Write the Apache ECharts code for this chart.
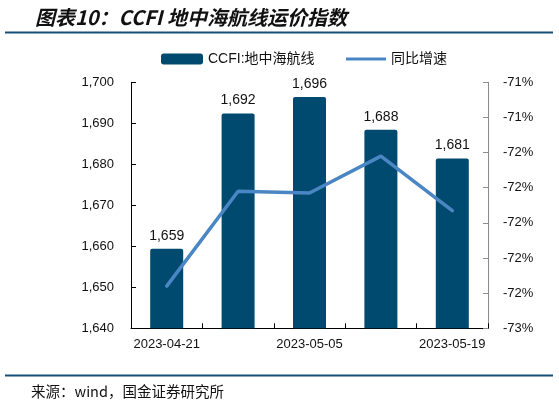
<!DOCTYPE html>
<html>
<head>
<meta charset="utf-8">
<script src="https://cdn.jsdelivr.net/npm/echarts@6/dist/echarts.min.js"></script>
<style>
html,body{margin:0;padding:0;background:#fff;}
#c{width:559px;height:406px;}
</style>
</head>
<body>
<div id="c"></div>
<script>
var categories = ['2023-04-21', '2023-04-28', '2023-05-05', '2023-05-12', '2023-05-19'];
var ccfiValues = [1659.4, 1692.4, 1696.4, 1688.4, 1681.4];
var yoyValues = [-72.36, -71.82, -71.83, -71.62, -71.93];
var leftTicks = { min: 1640, max: 1700, interval: 10 };
var rightTicks = { min: -72.6, max: -71.2, interval: 0.2 };
var titleText = '图表10：CCFI 地中海航线运价指数';
var sourceText = '来源：wind，国金证券研究所';
var seriesNames = ['CCFI:地中海航线', '同比增速'];

var FONT = '"Liberation Sans", Arial, "Noto Sans CJK SC", sans-serif';
var chart = echarts.init(document.getElementById('c'), null, { renderer: 'canvas' });
function fmtThousands(v) {
  return Math.round(v).toString().replace(/\B(?=(\d{3})+(?!\d))/g, ',');
}
chart.setOption({
  animation: false,
  backgroundColor: '#fff',
  textStyle: { fontFamily: FONT },
  title: {
    text: titleText,
    left: 30,
    top: 2,
    textStyle: {
      fontSize: 20,
      fontWeight: 'bold',
      fontStyle: 'italic',
      color: '#111',
      fontFamily: '"Noto Sans CJK SC", sans-serif'
    }
  },
  graphic: [
    { type: 'line', shape: { x1: 5, y1: 32.5, x2: 553, y2: 32.5 }, style: { stroke: '#134f78', lineWidth: 2 } },
    { type: 'line', shape: { x1: 5, y1: 375.5, x2: 553, y2: 375.5 }, style: { stroke: '#134f78', lineWidth: 2 } },
    { type: 'text', left: 31, top: 384, style: { text: sourceText, fontSize: 14.5, fill: '#111', fontFamily: '"Noto Sans CJK SC", monospace' } }
  ],
  legend: [
    {
      left: 156,
      top: 47,
      itemWidth: 42,
      itemHeight: 11,
      textStyle: { fontSize: 14, color: '#111', fontFamily: FONT },
      data: [{ name: seriesNames[0], icon: 'roundRect' }]
    },
    {
      left: 341,
      top: 47,
      itemWidth: 40,
      itemHeight: 11,
      textStyle: { fontSize: 14, color: '#111', fontFamily: FONT },
      data: [{ name: seriesNames[1], icon: 'path://M0,4 L40,4 L40,7 L0,7 Z' }],
      itemStyle: { color: '#4a86c4' }
    }
  ],
  grid: { left: 131, right: 71, top: 82.3, bottom: 77.7, containLabel: false },
  xAxis: {
    type: 'category',
    data: categories,
    boundaryGap: true,
    axisLine: { lineStyle: { color: '#000', width: 1 } },
    axisTick: { show: true, inside: true, interval: 0, length: 5, lineStyle: { color: '#000' } },
    axisLabel: { interval: 1, fontSize: 13, color: '#111', margin: 10, fontFamily: FONT }
  },
  yAxis: [
    {
      type: 'value',
      min: leftTicks.min, max: leftTicks.max, interval: leftTicks.interval,
      axisLine: { show: true, lineStyle: { color: '#000' } },
      axisTick: { show: true, inside: true, length: 5, lineStyle: { color: '#000' } },
      splitLine: { show: false },
      axisLabel: { fontSize: 13, color: '#111', margin: 17, formatter: fmtThousands, fontFamily: FONT }
    },
    {
      type: 'value',
      position: 'right',
      min: rightTicks.min, max: rightTicks.max, interval: rightTicks.interval,
      axisLine: { show: true, lineStyle: { color: '#8c8c8c' } },
      axisTick: { show: true, inside: true, length: 5, lineStyle: { color: '#8c8c8c' } },
      splitLine: { show: false },
      axisLabel: {
        fontSize: 13, color: '#111', margin: 15, fontFamily: FONT,
        formatter: function (v) { return Math.round(v).toFixed(0) + '%'; }
      }
    }
  ],
  series: [
    {
      name: seriesNames[0],
      type: 'bar',
      yAxisIndex: 0,
      data: ccfiValues,
      barWidth: 33,
      itemStyle: { color: '#004a70', borderRadius: [2, 2, 0, 0] },
      label: {
        show: true, position: 'top', distance: 6, fontSize: 14, color: '#111', fontFamily: FONT,
        formatter: function (p) { return fmtThousands(p.value); }
      }
    },
    {
      name: seriesNames[1],
      type: 'line',
      yAxisIndex: 1,
      data: yoyValues,
      symbol: 'none',
      lineStyle: { color: '#4a86c4', width: 3.5, cap: 'round' },
      itemStyle: { color: '#4a86c4' },
      z: 5
    }
  ]
});
</script>
</body>
</html>
